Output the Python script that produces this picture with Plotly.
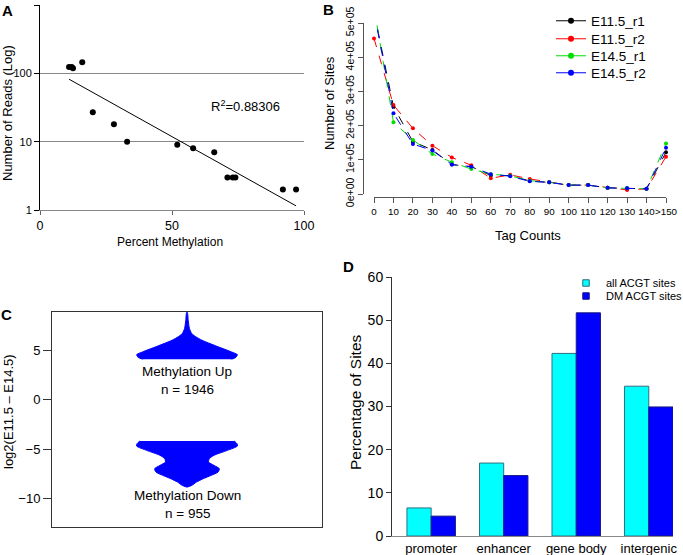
import numpy as np
import plotly.graph_objects as go

W, H = 683, 555
FONT = "Liberation Sans"

# ---------------- Data ----------------
# Panel A
pct_methylation = [11, 12, 12.5, 16, 20, 28, 33, 52, 58, 66, 71, 73, 74, 92, 97]
num_reads = [124, 124, 119, 145, 27, 18, 10, 9, 8, 7, 3, 3, 3, 2, 2]
r2_text = "R<sup>2</sup>=0.88306"

# Panel B
tag_labels = ["0", "10", "20", "30", "40", "50", "60", "70", "80", "90",
              "100", "110", "120", "130", "140", ">150"]
e115_r1 = [533000, 255000, 153000, 129000, 86000, 80000, 54000, 54000, 38000, 34000, 26000, 26000, 18000, 17000, 15000, 122000]
e115_r2 = [455000, 260000, 192000, 141000, 107000, 84000, 46000, 56000, 44000, 34000, 26000, 26000, 18000, 12000, 15000, 109000]
e145_r1 = [545000, 210000, 158000, 117000, 93000, 73000, 58000, 53000, 39000, 34000, 26000, 26000, 18000, 17000, 15000, 148000]
e145_r2 = [533000, 236000, 146000, 127000, 86000, 80000, 58000, 52000, 37000, 34000, 26000, 26000, 18000, 17000, 15000, 135000]
series_names = ["E11.5_r1", "E11.5_r2", "E14.5_r1", "E14.5_r2"]
series_colors = ["#000000", "#FF0000", "#00DD00", "#0000FF"]

# Panel C (violin outlines: value level and half-width)
up_levels = [4.09, 4.25, 4.55, 4.82, 5.09, 5.40, 5.67, 6.01, 6.35, 6.68, 7.18, 8.03, 8.81]
up_halfw = [0.33, 0.36, 0.373, 0.33, 0.28, 0.22, 0.17, 0.11, 0.065, 0.035, 0.018, 0.009, 0.003]
down_levels = [-4.16, -4.43, -4.67, -5.10, -5.60, -5.94, -6.28, -6.62, -6.95, -7.29, -7.62, -7.96, -8.30, -8.64, -8.81]
down_halfw = [0.35, 0.37, 0.373, 0.30, 0.20, 0.165, 0.16, 0.20, 0.24, 0.23, 0.18, 0.12, 0.07, 0.035, 0.0]
up_label = ["Methylation Up", "n = 1946"]
down_label = ["Methylation Down", "n = 955"]

# Panel D
regions = ["promoter", "enhancer", "gene body", "intergenic"]
all_acgt = [6.5, 16.9, 42.3, 34.7]
dm_acgt = [4.6, 14.0, 51.7, 29.9]
bar_names = ["all ACGT sites", "DM ACGT sites"]
bar_colors = ["#00FFFF", "#0000FF"]
bar_edges = ["#2F6F7F", "#1A1A80"]


def px(x):
    return x / W


def py(y):
    return 1 - y / H


fig = go.Figure()

# ---------------- Panel A ----------------
fig.add_trace(go.Scatter(x=pct_methylation, y=num_reads, mode="markers",
                         marker=dict(color="black", size=6),
                         xaxis="x", yaxis="y", showlegend=False))
coef = np.polyfit(pct_methylation, np.log10(num_reads), 1)
fx = np.array([min(pct_methylation), max(pct_methylation)])
fig.add_trace(go.Scatter(x=fx, y=10 ** np.polyval(coef, fx), mode="lines",
                         line=dict(color="black", width=1),
                         xaxis="x", yaxis="y", showlegend=False))

# ---------------- Panel B ----------------
for vals, name, col in zip([e115_r1, e115_r2, e145_r1, e145_r2], series_names, series_colors):
    fig.add_trace(go.Scatter(x=list(range(len(tag_labels))), y=vals, mode="lines+markers",
                             line=dict(color=col, width=1, dash="dash"),
                             marker=dict(color=col, size=4),
                             cliponaxis=False, xaxis="x2", yaxis="y2", showlegend=False))
b_legends = ["legend", "legend3", "legend4", "legend5"]
for name, col, lg in zip(series_names, series_colors, b_legends):
    fig.add_trace(go.Scatter(x=[None], y=[None], mode="lines+markers", name=name,
                             line=dict(color=col, width=1),
                             marker=dict(color=col, size=6),
                             xaxis="x2", yaxis="y2", legend=lg))

# ---------------- Panel C ----------------
for lv, hw in [(up_levels, up_halfw), (down_levels, down_halfw)]:
    hw = np.array(hw)
    lv = np.array(lv)
    xs = np.concatenate([hw, -hw[::-1]])
    ys = np.concatenate([lv, lv[::-1]])
    fig.add_trace(go.Scatter(x=xs, y=ys, mode="lines", fill="toself",
                             fillcolor="#0000FF", line=dict(color="#0000FF", width=1, shape="spline", smoothing=0.6),
                             xaxis="x3", yaxis="y3", showlegend=False))

# ---------------- Panel D ----------------
d_legends = ["legend2", "legend6"]
for vals, name, col, edge, lg in zip([all_acgt, dm_acgt], bar_names, bar_colors, bar_edges, d_legends):
    fig.add_trace(go.Bar(x=regions, y=vals, name=name, showlegend=False,
                         marker=dict(color=col, line=dict(color=edge, width=1)),
                         xaxis="x4", yaxis="y4"))
    fig.add_trace(go.Scatter(x=[None], y=[None], mode="markers", name=name,
                             marker=dict(color=col, size=6.5, symbol="square",
                                         line=dict(color=edge, width=1)),
                             xaxis="x4", yaxis="y4", legend=lg))

tf = dict(family=FONT, size=13, color="black")


def leg(xp, yp, size):
    return dict(x=px(xp), y=py(yp), xanchor="left", yanchor="middle",
                bgcolor="rgba(0,0,0,0)", font=dict(family=FONT, size=size, color="black"),
                itemwidth=30, tracegroupgap=0, borderwidth=0)


layout = dict(
    width=W, height=H, margin=dict(l=0, r=0, t=0, b=0, autoexpand=False),
    paper_bgcolor="white", plot_bgcolor="white",
    font=dict(family=FONT, color="black"),
    barmode="group", bargap=0.332, bargroupgap=0,
    # A
    xaxis=dict(domain=[px(40), px(304)], range=[0, 100], tickvals=[0, 50, 100],
               ticks="outside", ticklen=4, tickcolor="#666", showline=True, linecolor="#888",
               showgrid=False, zeroline=False, tickfont=dict(family=FONT, size=12.5, color="black"),
               anchor="y"),
    yaxis=dict(domain=[py(210), py(5)], type="log", range=[0, 3],
               tickvals=[1, 10, 100, 1000], ticktext=["1", "10", "100", "0"],
               ticks="outside", ticklen=5, tickcolor="black", showline=True, linecolor="black",
               showgrid=True, gridcolor="#8a8a8a", gridwidth=1, zeroline=False,
               tickfont=dict(family=FONT, size=11, color="black"), anchor="x"),
    # B
    xaxis2=dict(domain=[px(374), px(666)], range=[0, 15], tickvals=list(range(len(tag_labels))),
                ticktext=tag_labels, ticks="outside", ticklen=5, tickcolor="#555",
                showline=True, linecolor="#555", showgrid=False, zeroline=False,
                tickfont=dict(family=FONT, size=9.8, color="black"), tickangle=0,
                anchor="free", position=py(197)),
    yaxis2=dict(domain=[py(194), py(23)], range=[0, 500000],
                tickvals=[0, 100000, 200000, 300000, 400000, 500000],
                ticktext=["0e+00", "1e+05", "2e+05", "3e+05", "4e+05", "5e+05"],
                tickangle=-90, ticks="outside", ticklen=5, tickcolor="#555",
                showline=True, linecolor="#555", showgrid=False, zeroline=False,
                tickfont=dict(family=FONT, size=10.5, color="black"),
                anchor="free", position=px(363)),
    # C
    xaxis3=dict(domain=[px(52), px(322)], range=[-1, 1], showticklabels=False, ticks="",
                showline=True, mirror=True, linecolor="#333", showgrid=False, zeroline=False,
                anchor="y3"),
    yaxis3=dict(domain=[py(527), py(312)], range=[-12.83, 8.85], tickvals=[-10, -5, 0, 5],
                ticks="outside", ticklen=8, tickcolor="#333", showline=True, mirror=True,
                linecolor="#333", showgrid=False, zeroline=False, tickfont=tf, anchor="x3"),
    # D
    xaxis4=dict(domain=[px(392), px(673)], range=[-0.54, 3.334], ticks="",
                showline=True, linecolor="#888", showgrid=False, zeroline=False,
                tickfont=tf, anchor="y4"),
    yaxis4=dict(domain=[py(536), py(277)], range=[0, 60], tickvals=[0, 10, 20, 30, 40, 50, 60],
                ticks="outside", ticklen=5, tickcolor="#333", showline=True, linecolor="#333",
                showgrid=False, zeroline=False, tickfont=dict(family=FONT, size=14, color="black"),
                anchor="x4"),
    legend=leg(551, 21, 13.5),
    legend3=leg(551, 39, 13.5),
    legend4=leg(551, 56, 13.5),
    legend5=leg(551, 73, 13.5),
    legend2=leg(566, 283, 11),
    legend6=leg(566, 296, 11),
)
fig.update_layout(**layout)

ann = []


def add_text(text, x, y, size, angle=0, xref="paper", yref="paper"):
    ann.append(dict(text=text, x=x, y=y, xref=xref, yref=yref, textangle=angle,
                    xanchor="center", yanchor="middle", showarrow=False,
                    font=dict(family=FONT, size=size, color="black")))


# panel letters
for t, x, y in [("A", 7, 10), ("B", 328, 9), ("C", 6, 314), ("D", 348, 266)]:
    add_text("<b>%s</b>" % t, px(x), py(y), 15)
# axis titles
add_text("Number of Reads (Log)", px(7), py(113), 13, -90)
add_text("Percent Methylation", px(170), py(242), 12)
add_text(r2_text, 77.7, 1.518, 13, 0, "x", "y")
add_text("Number of Sites", px(329), py(103), 13, -90)
add_text("Tag Counts", px(528), py(235), 13)
add_text("log2(E11.5 \u2013 E14.5)", px(8), py(412), 13, -90)
add_text("Percentage of Sites", px(355), py(402), 15.5, -90)
# violin labels
for txt, yv in [(up_label[0], 2.88), (up_label[1], 1.06), (down_label[0], -9.65), (down_label[1], -11.46)]:
    add_text(txt, 0, yv, 13.5, 0, "x3", "y3")
fig.update_layout(annotations=ann)

fig.write_html("out.html", config={"displayModeBar": False},
               post_script="document.body.style.margin='0';document.body.style.overflow='hidden';")
